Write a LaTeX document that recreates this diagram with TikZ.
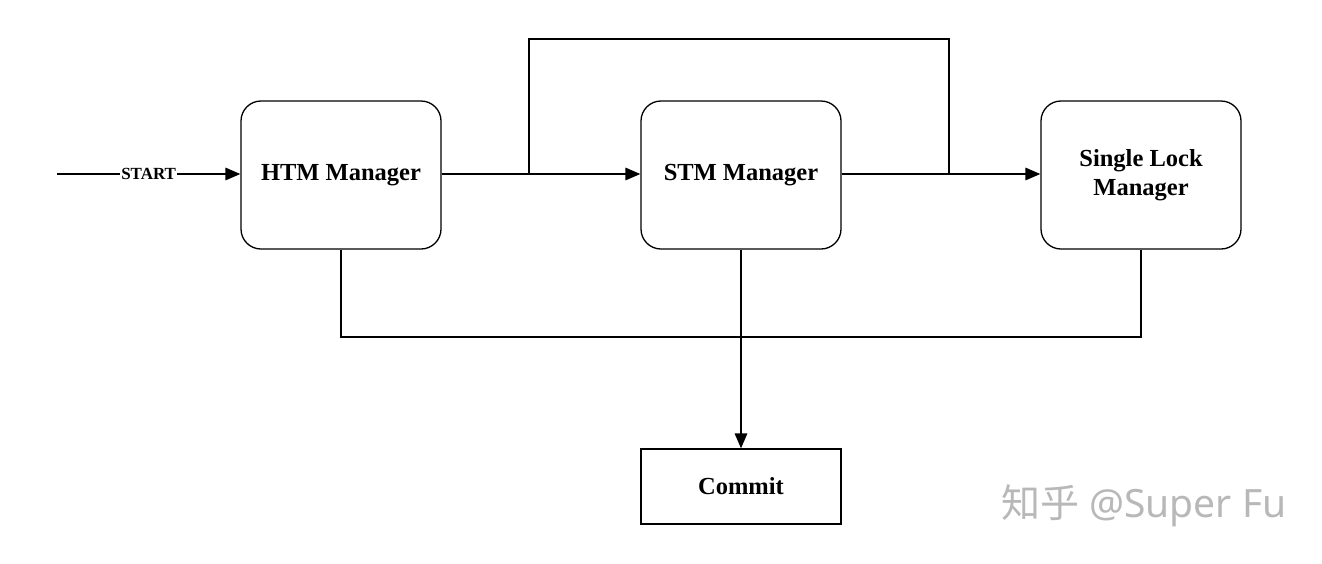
\documentclass[tikz,border=0pt]{standalone}
\usepackage{fontspec}
\setmainfont{Liberation Serif}
\newfontfamily\cjk{Noto Sans CJK SC}
\usetikzlibrary{arrows.meta}
\tikzset{
  mgr/.style={draw, line width=1.3pt, rounded corners=20pt, minimum width=200pt, minimum height=148pt, align=center, font=\fontsize{24.5}{29}\selectfont\bfseries},
  plainbox/.style={draw, line width=1.3pt, minimum width=200pt, minimum height=75pt, font=\fontsize{24.5}{29}\selectfont\bfseries},
  wire/.style={line width=1.7pt},
  arr/.style={wire, -{Triangle[length=15pt,width=12.5pt]}},
}
\begin{document}
\begin{tikzpicture}[x=1pt,y=-1pt]
\useasboundingbox (0,0) rectangle (1322,563);
\node[mgr] (htm) at (341,175) {HTM Manager};
\node[mgr] (stm) at (741,175) {STM Manager};
\node[mgr] (slm) at (1141,175) {Single Lock\\Manager};
\node[plainbox] (commit) at (741,486.5) {Commit};
\coordinate (s0) at (57,174);
\coordinate (b1) at (529,174);
\coordinate (b2) at (949,174);
\coordinate (bus) at (741,337);
% start
\draw[arr] (s0) -- node[pos=0.5, fill=white, inner sep=1pt, font=\fontsize{17}{20}\selectfont\bfseries] (startlbl) {START} (htm.west |- s0);
% htm -> stm
\draw[arr] (htm.east |- s0) -- (stm.west |- s0);
% bypass
\draw[wire] (b1) -- (529,39) -- (949,39) -- (b2);
% stm -> slm
\draw[arr] (stm.east |- s0) -- (slm.west |- s0);
% bottom bus
\draw[wire] (htm.south) -- (341,337) -- (1141,337) -- (slm.south);
\draw[wire] (stm.south) -- (bus);
\draw[arr] (bus) -- (commit.north);
% watermark
\node[text=black!28, font=\fontsize{39}{42}\selectfont] (wm) at (1144,506) {{\cjk 知乎} {\fontspec{Noto Sans}@Super Fu}};
\end{tikzpicture}
\end{document}
